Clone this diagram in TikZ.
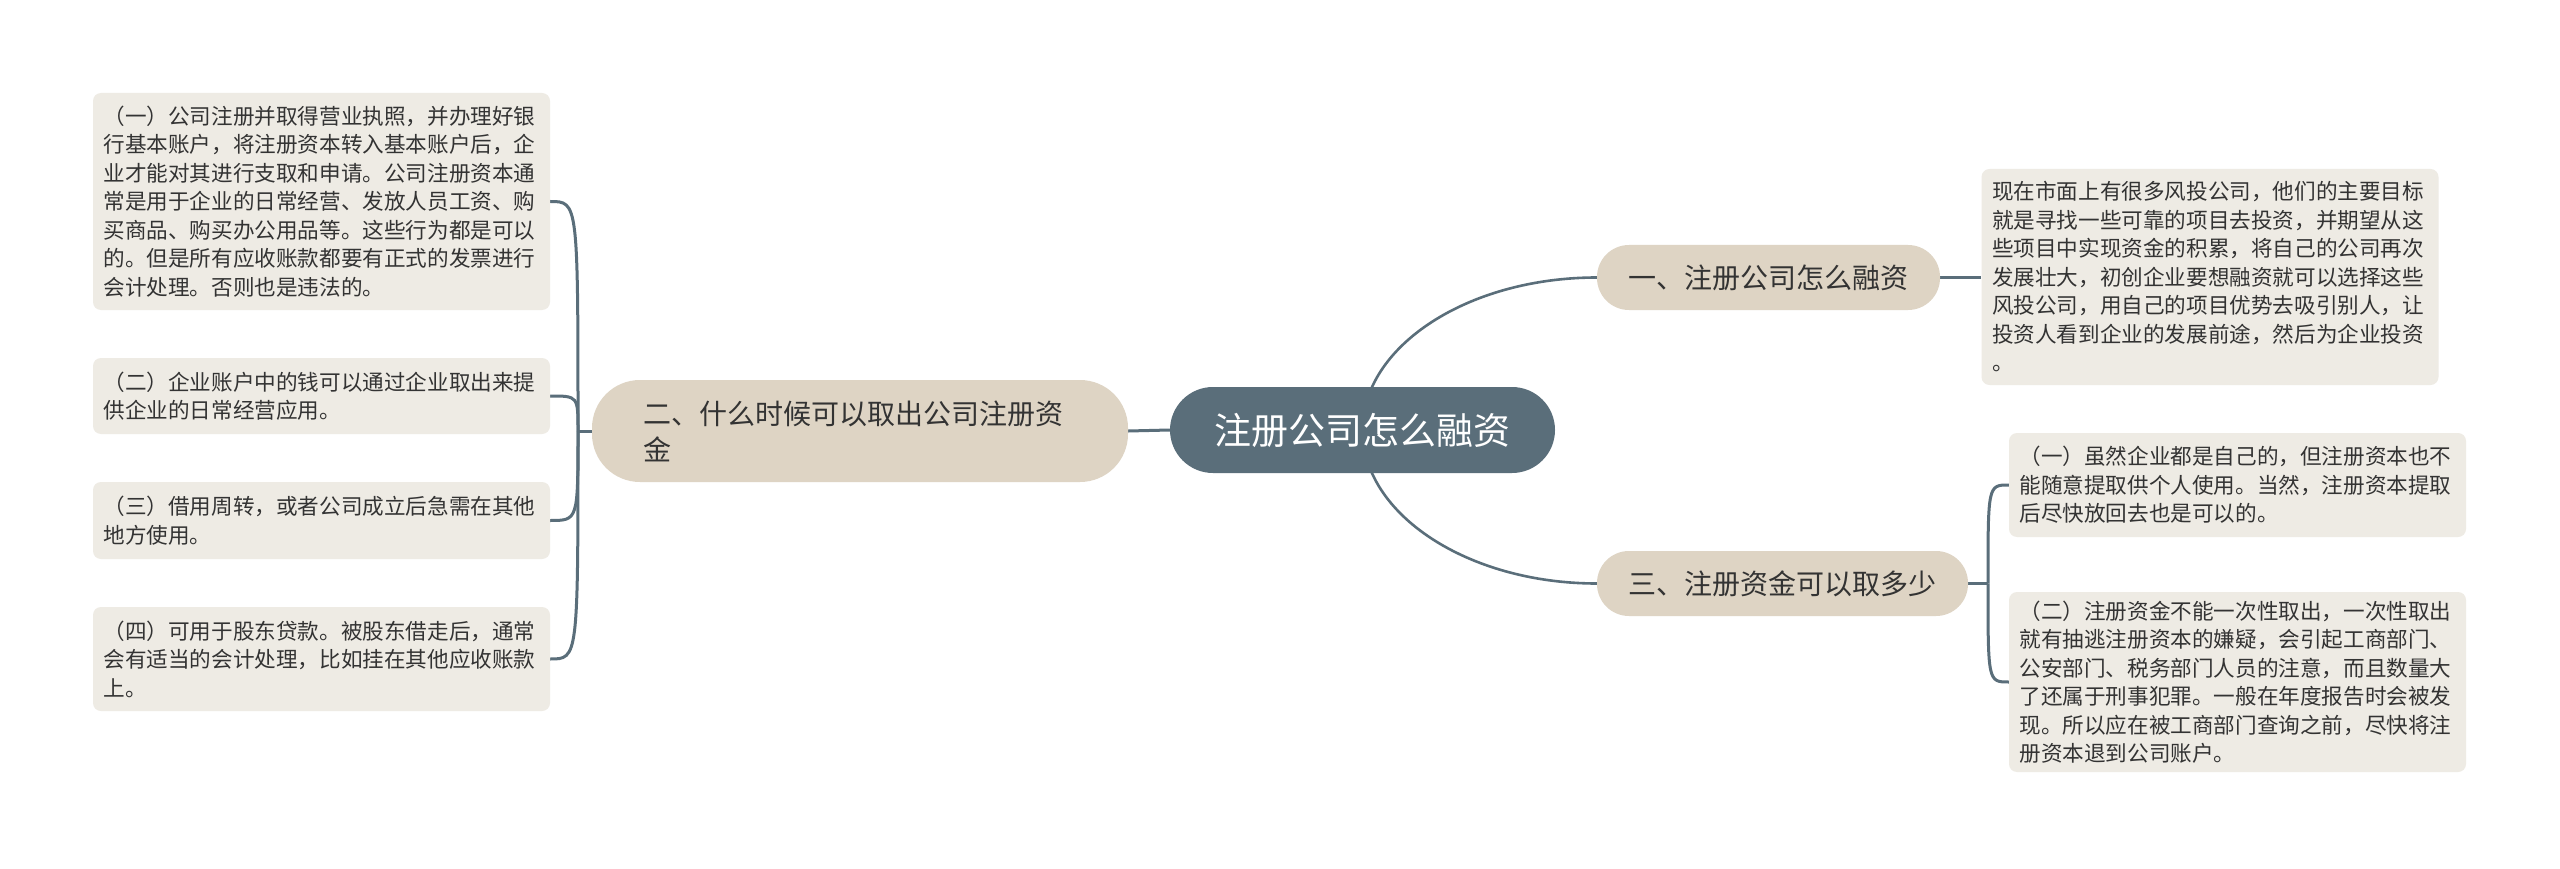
\documentclass[tikz,border=0pt]{standalone}
\usepackage{fontspec}
\setmainfont{Noto Sans CJK SC}
\usetikzlibrary{calc,backgrounds}
\definecolor{slate}{HTML}{5A6E7A}
\definecolor{branchfill}{HTML}{DED4C4}
\definecolor{leaffill}{HTML}{EEEBE4}
\definecolor{txt}{HTML}{333333}
\tikzset{
  centernode/.style={fill=slate, text=white, rounded corners=43pt, minimum width=385pt,
    minimum height=86pt, inner sep=0pt, font=\fontsize{37}{44}\selectfont},
  branchnode/.style={fill=branchfill, text=txt, rounded corners=32pt, minimum height=65pt,
    inner sep=0pt, font=\fontsize{28}{36}\selectfont},
  leafnode/.style={fill=leaffill, text=txt, rounded corners=8pt, minimum width=457pt,
    text width=436pt, align=left, inner xsep=10.5pt, inner ysep=0pt,
    font=\fontsize{21.6}{28.5}\selectfont},
  conn/.style={draw=slate, line width=3pt}
}
\begin{document}
\begin{tikzpicture}[x=1pt,y=-1pt]
\path[use as bounding box] (0,0) rectangle (2560,869);

\node[centernode] (c) at (1362.5,430) {注册公司怎么融资};

\node[branchnode, minimum width=343pt] (b1) at (1768.5,277.5) {一、注册公司怎么融资};
\node[branchnode, minimum width=371pt] (b3) at (1782.5,583.5) {三、注册资金可以取多少};
\node[branchnode, minimum width=536pt, minimum height=102pt, rounded corners=48pt,
  text width=434pt, align=left, inner xsep=51pt] (b2) at (860,431)
  {二、什么时候可以取出公司注册资\\金};

\node[leafnode, minimum height=217pt] (l1) at (321.5,201.5)
  {（一）公司注册并取得营业执照，并办理好银\\行基本账户，将注册资本转入基本账户后，企\\业才能对其进行支取和申请。公司注册资本通\\常是用于企业的日常经营、发放人员工资、购\\买商品、购买办公用品等。这些行为都是可以\\的。但是所有应收账款都要有正式的发票进行\\会计处理。否则也是违法的。};
\node[leafnode, minimum height=76pt] (l2) at (321.5,396)
  {（二）企业账户中的钱可以通过企业取出来提\\供企业的日常经营应用。};
\node[leafnode, minimum height=77pt] (l3) at (321.5,520.5)
  {（三）借用周转，或者公司成立后急需在其他\\地方使用。};
\node[leafnode, minimum height=104pt] (l4) at (321.5,659)
  {（四）可用于股东贷款。被股东借走后，通常\\会有适当的会计处理，比如挂在其他应收账款\\上。};

\node[leafnode, minimum height=216pt] (r1) at (2210,277)
  {现在市面上有很多风投公司，他们的主要目标\\就是寻找一些可靠的项目去投资，并期望从这\\些项目中实现资金的积累，将自己的公司再次\\发展壮大，初创企业要想融资就可以选择这些\\风投公司，用自己的项目优势去吸引别人，让\\投资人看到企业的发展前途，然后为企业投资\\。};
\node[leafnode, minimum width=455pt, minimum height=104pt] (r3a) at (2237.5,485)
  {（一）虽然企业都是自己的，但注册资本也不\\能随意提取供个人使用。当然，注册资本提取\\后尽快放回去也是可以的。};
\node[leafnode, minimum width=455pt, minimum height=180pt] (r3b) at (2237.5,682)
  {（二）注册资金不能一次性取出，一次性取出\\就有抽逃注册资本的嫌疑，会引起工商部门、\\公安部门、税务部门人员的注意，而且数量大\\了还属于刑事犯罪。一般在年度报告时会被发\\现。所以应在被工商部门查询之前，尽快将注\\册资本退到公司账户。};

\coordinate (j2) at (578,431);
\coordinate (j3) at (1988,583.5);

\begin{scope}[on background layer]
\fill[white] (0,0) rectangle (2560,869);
\draw[conn] (c.west) -- (b2.east);
\draw[conn, line width=2.6pt] (c.center) .. controls ($(c.center)!0.55!(c.center|-b1.west)$) and ($(b1.west)!0.55!(c.center|-b1.west)$) .. (b1.west);
\draw[conn, line width=2.6pt] (c.center) .. controls ($(c.center)!0.55!(c.center|-b3.west)$) and ($(b3.west)!0.55!(c.center|-b3.west)$) .. (b3.west);
\draw[conn] (b1.east) -- (b1.east -| r1.west);
\draw[conn] (b3.east) -- (j3);
\draw[conn] (j3) .. controls (j3|-r3a.west) and (j3|-r3a.west) .. (r3a.west);
\draw[conn] (j3) .. controls (j3|-r3b.west) and (j3|-r3b.west) .. (r3b.west);
\draw[conn] (b2.west) -- (j2);
\draw[conn] (j2) .. controls (j2|-l1.east) and (j2|-l1.east) .. (l1.east);
\draw[conn] (j2) .. controls (j2|-l2.east) and (j2|-l2.east) .. (l2.east);
\draw[conn] (j2) .. controls (j2|-l3.east) and (j2|-l3.east) .. (l3.east);
\draw[conn] (j2) .. controls (j2|-l4.east) and (j2|-l4.east) .. (l4.east);
\end{scope}
\end{tikzpicture}
\end{document}
